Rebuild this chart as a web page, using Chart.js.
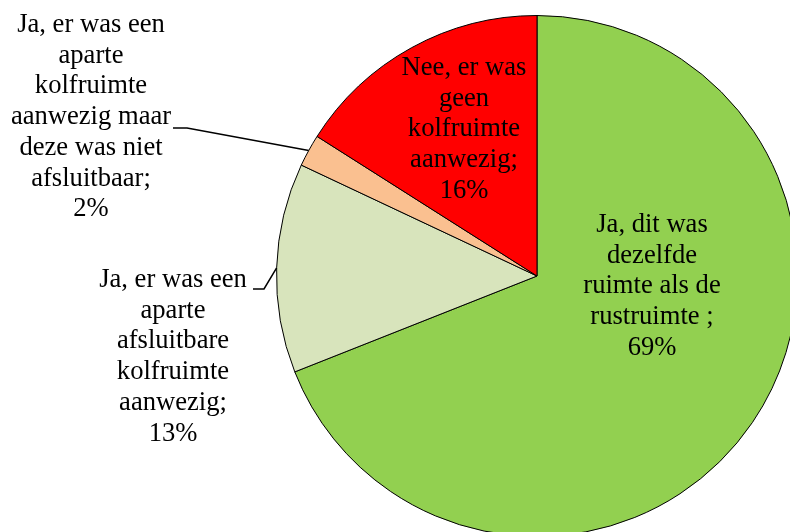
<!DOCTYPE html>
<html lang="nl">
<head>
    <meta charset="UTF-8">
    <title>Kolfruimte</title>
    <script src="https://cdn.jsdelivr.net/npm/chart.js"></script>
    <style>
        html, body {
            margin: 0;
            padding: 0;
            width: 790px;
            height: 532px;
            overflow: hidden;
            background: #ffffff;
            font-family: 'Liberation Serif', 'Times New Roman', serif;
        }
        .chart-box {
            position: absolute;
            left: 0;
            top: 0;
            width: 1074px;
            height: 552px;
        }
        .font-warmup {
            position: absolute;
            left: -200px;
            top: -200px;
            font-size: 26px;
        }
    </style>
</head>
<body>
    <span class="font-warmup">Ja, er was een</span>
    <div class="chart-box">
        <canvas id="kolfChart" width="1074" height="552"></canvas>
    </div>

    <script>
        // antwoorden, met regelafbreking zoals in de labels
        const categories = [
            ['Ja, dit was', 'dezelfde', 'ruimte als de', 'rustruimte '],
            ['Ja, er was een', 'aparte', 'afsluitbare', 'kolfruimte', 'aanwezig'],
            ['Ja, er was een', 'aparte', 'kolfruimte', 'aanwezig maar', 'deze was niet', 'afsluitbaar'],
            ['Nee, er was', 'geen', 'kolfruimte', 'aanwezig']
        ];
        const percentages = [69, 13, 2, 16];
        const sliceColors = ['#92D050', '#D8E4BC', '#FAC090', '#FF0000'];

        // plaats van elk label: midden x, eerste basislijn, en eventueel een verbindingslijn
        const labelLayout = [
            { x: 652, y: 232 },
            { x: 173, y: 287, leader: { x: 253, y: 289, bend: 264 } },
            { x: 91, y: 32, leader: { x: 173, y: 128, bend: 187 } },
            { x: 464, y: 75 }
        ];
        const lineHeight = 30.7;
        const labelFont = '26.6px "Liberation Serif"';

        const pieLabels = {
            id: 'pieLabels',
            afterDraw(chart) {
                const ctx = chart.ctx;
                const arcs = chart.getDatasetMeta(0).data;
                ctx.save();
                ctx.fillStyle = '#000000';
                ctx.strokeStyle = '#000000';
                ctx.font = labelFont;
                ctx.textAlign = 'center';
                ctx.textBaseline = 'alphabetic';

                categories.forEach((lines, i) => {
                    const pos = labelLayout[i];
                    const text = lines.slice();
                    text[text.length - 1] += ';';
                    text.push(percentages[i] + '%');
                    text.forEach((line, j) => {
                        ctx.fillText(line, pos.x, pos.y + j * lineHeight);
                    });

                    if (pos.leader) {
                        const arc = arcs[i];
                        const mid = (arc.startAngle + arc.endAngle) / 2;
                        const ex = arc.x + Math.cos(mid) * arc.outerRadius;
                        const ey = arc.y + Math.sin(mid) * arc.outerRadius;
                        ctx.lineWidth = 1.5;
                        ctx.beginPath();
                        ctx.moveTo(pos.leader.x, pos.leader.y);
                        ctx.lineTo(pos.leader.bend, pos.leader.y);
                        ctx.lineTo(ex, ey);
                        ctx.stroke();
                    }
                });
                ctx.restore();
            }
        };

        function drawChart() {
            new Chart(document.getElementById('kolfChart'), {
                type: 'pie',
                data: {
                    labels: categories.map(lines => lines.join(' ')),
                    datasets: [{
                        data: percentages,
                        backgroundColor: sliceColors,
                        borderColor: '#000000',
                        borderWidth: 1
                    }]
                },
                options: {
                    responsive: false,
                    animation: false,
                    layout: {
                        padding: { left: 276, right: 276, top: 15, bottom: 15 }
                    },
                    plugins: {
                        legend: { display: false },
                        tooltip: { enabled: false }
                    }
                },
                plugins: [pieLabels]
            });
        }

        document.fonts.load(labelFont).then(drawChart, drawChart);
    </script>
</body>
</html>
